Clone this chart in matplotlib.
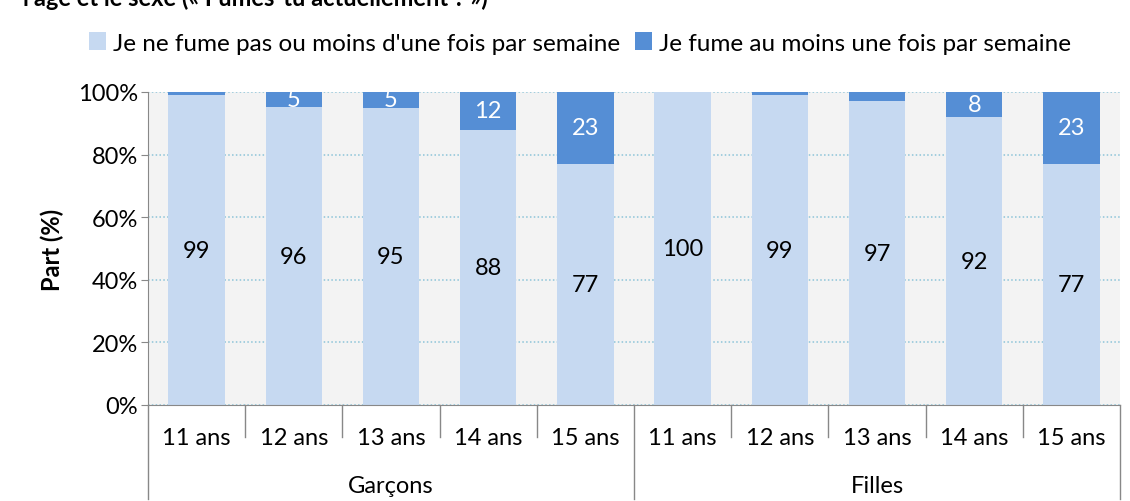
import matplotlib.pyplot as plt

# data
ages = ['11 ans', '12 ans', '13 ans', '14 ans', '15 ans']
groups = ['Garçons', 'Filles']
non_fumeurs = [99, 96, 95, 88, 77, 100, 99, 97, 92, 77]
fumeurs = [1, 5, 5, 12, 23, 0, 1, 3, 8, 23]
legend_labels = ["Je ne fume pas ou moins d'une fois par semaine",
                 "Je fume au moins une fois par semaine"]

light = '#c6d9f1'
dark = '#558ed5'
bg = '#f3f3f3'
fs = 17

plt.rcParams['font.family'] = ['Lato', 'DejaVu Sans']

fig = plt.figure(figsize=(11.3, 5.02), dpi=100)
fig.patch.set_facecolor('white')

# grey chart area behind everything
bgax = fig.add_axes([7 / 1130, 0, 1 - 7 / 1130, 1 - 13 / 502], zorder=-10)
bgax.set_facecolor(bg)
bgax.axis('off')
bgax.patch.set_visible(True)

# title, cut at the top edge like in the source
fig.text(488 / 1130, 1 - 6 / 502, "l'âge et le sexe (« Fumes-tu actuellement ? »)",
         ha='right', va='baseline', fontsize=fs, fontweight='bold')

ax = fig.add_axes([148 / 1130, 1 - 406 / 502, 972 / 1130, 313 / 502])
ax.set_facecolor(bg)

n = len(non_fumeurs)
x = list(range(n))
tot = [a + b for a, b in zip(non_fumeurs, fumeurs)]
low = [100 * a / t for a, t in zip(non_fumeurs, tot)]
high = [100 * b / t for b, t in zip(fumeurs, tot)]

w = 0.58
b1 = ax.bar(x, low, width=w, color=light, label=legend_labels[0], zorder=2)
b2 = ax.bar(x, high, bottom=low, width=w, color=dark, label=legend_labels[1], zorder=2)

for i in range(n):
    ax.text(x[i], low[i] / 2, str(non_fumeurs[i]), ha='center', va='center',
            fontsize=fs, color='black', zorder=3)
    if fumeurs[i] >= 5:
        ax.text(x[i], low[i] + high[i] / 2, str(fumeurs[i]), ha='center', va='center',
                fontsize=fs, color='white', zorder=3)

ax.set_xlim(-0.5, n - 0.5)
ax.set_ylim(0, 100)
ax.set_yticks([0, 20, 40, 60, 80, 100])
ax.set_yticklabels(['0%', '20%', '40%', '60%', '80%', '100%'], fontsize=fs)
ax.yaxis.grid(True, linestyle=(0, (1, 1.5)), color='#8cc4d8', linewidth=1.1, zorder=1)
ax.set_axisbelow(True)
ax.set_ylabel('Part (%)', fontsize=fs, fontweight='bold', labelpad=10)

for s in ['top', 'right']:
    ax.spines[s].set_visible(False)
ax.spines['left'].set_color('#888888')
ax.spines['bottom'].set_color('#888888')
ax.tick_params(axis='y', length=5, color='#888888', direction='out', pad=2)
ax.set_xticks([])

# category separators and labels
tr = ax.get_xaxis_transform()
for k in range(n + 1):
    xs = k - 0.5
    deep = (k % len(ages) == 0)
    y_end = -0.30 if deep else -0.102
    ax.plot([xs, xs], [0, y_end], color='#888888', linewidth=1, transform=tr, clip_on=False)
for i in range(n):
    ax.text(x[i], -0.105, ages[i % len(ages)], ha='center', va='center', fontsize=fs, transform=tr)
for g, name in enumerate(groups):
    cx = g * len(ages) + (len(ages) - 1) / 2
    ax.text(cx, -0.258, name, ha='center', va='center', fontsize=fs, transform=tr)

fig.legend(handles=[b1, b2], loc='center', bbox_to_anchor=(580 / 1130, 1 - 44 / 502), ncol=2,
           frameon=False, fontsize=17.5, handlelength=0.7, handleheight=0.7,
           handletextpad=0.3, columnspacing=0.6)

fig.savefig('out.png', dpi=100, facecolor='white')
